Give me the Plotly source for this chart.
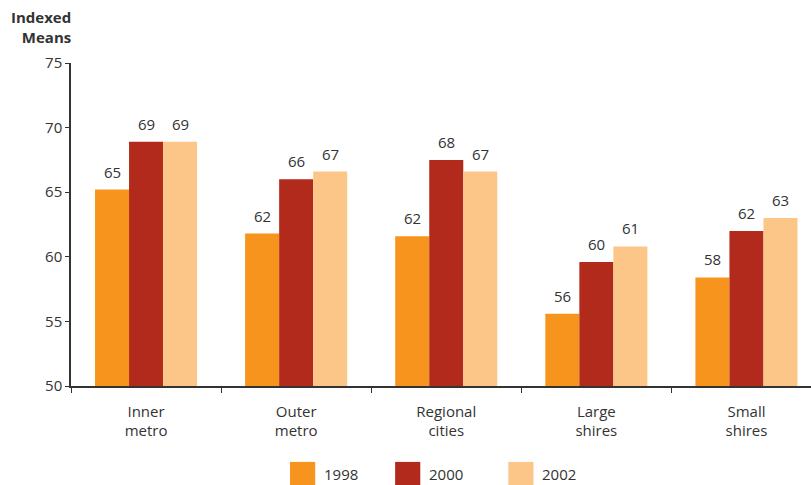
import plotly.graph_objects as go

# Indexed mean scores by area type, three survey years
categories = ["Inner<br>metro", "Outer<br>metro", "Regional<br>cities", "Large<br>shires", "Small<br>shires"]
years = ["1998", "2000", "2002"]
values_1998 = [65.2, 61.8, 61.6, 55.6, 58.4]
values_2000 = [68.9, 66.0, 67.5, 59.6, 62.0]
values_2002 = [68.9, 66.6, 66.6, 60.8, 63.0]
colors = ["#F7941E", "#B22A1C", "#FDC689"]

series = [values_1998, values_2000, values_2002]
font_family = "Open Sans, Noto Sans, sans-serif"
text_color = "#333333"

width, height = 811, 485
margin = dict(l=71, r=0, t=63, b=99)
x_range = [-0.5, 4.43]
bargap = 0.32

fig = go.Figure()
for name, vals, col in zip(years, series, colors):
    fig.add_trace(go.Bar(
        x=categories,
        y=vals,
        name=name,
        marker=dict(color=col, line=dict(width=0)),
        showlegend=False,
    ))

# Value labels above each bar, offset horizontally to the bar's slot in the group
px_per_cat = (width - margin["l"] - margin["r"]) / (x_range[1] - x_range[0])
bar_px = px_per_cat * (1 - bargap) / len(series)
for i, vals in enumerate(series):
    for cat, v in zip(categories, vals):
        fig.add_annotation(x=cat, y=v, text=f"{v:.0f}", showarrow=False,
                           xanchor="center", yanchor="bottom",
                           xshift=(i - (len(series) - 1) / 2) * bar_px, yshift=6,
                           font=dict(size=15, color=text_color, family=font_family))

# Legend drawn as large colour swatches below the axis
legend_x = [0.296, 0.438, 0.591]
for lx, name, col in zip(legend_x, years, colors):
    fig.add_shape(type="rect", xref="paper", yref="paper",
                  x0=lx, x1=lx + 0.034, y0=-0.307, y1=-0.235,
                  fillcolor=col, line=dict(width=0))
    fig.add_annotation(xref="paper", yref="paper", x=lx + 0.043, y=-0.271,
                       text=name, showarrow=False, xanchor="left", yanchor="middle",
                       font=dict(size=15, color=text_color, family=font_family))

fig.add_annotation(xref="paper", yref="paper", x=0, y=1, xanchor="right", yanchor="bottom",
                   xshift=2, yshift=14, align="right", showarrow=False,
                   text="<b>Indexed<br>Means</b>",
                   font=dict(size=15, color=text_color, family=font_family))

fig.update_layout(
    width=width, height=height,
    margin=margin,
    paper_bgcolor="white", plot_bgcolor="white",
    barmode="group", bargap=bargap, bargroupgap=0,
    font=dict(family=font_family, size=15, color=text_color),
    xaxis=dict(range=x_range, showline=True, linecolor="#333333", linewidth=1.5,
               ticks="outside", tickson="boundaries", ticklen=5, tickcolor="#333333",
               ticklabelstandoff=11,
               showgrid=False, tickfont=dict(size=15, color=text_color)),
    yaxis=dict(range=[50, 75], dtick=5, showline=True, linecolor="#333333", linewidth=1.5,
               ticks="outside", ticklen=4, tickcolor="#333333", showgrid=False,
               zeroline=False, tickfont=dict(size=15, color=text_color)),
)

fig.write_html("out.html")
